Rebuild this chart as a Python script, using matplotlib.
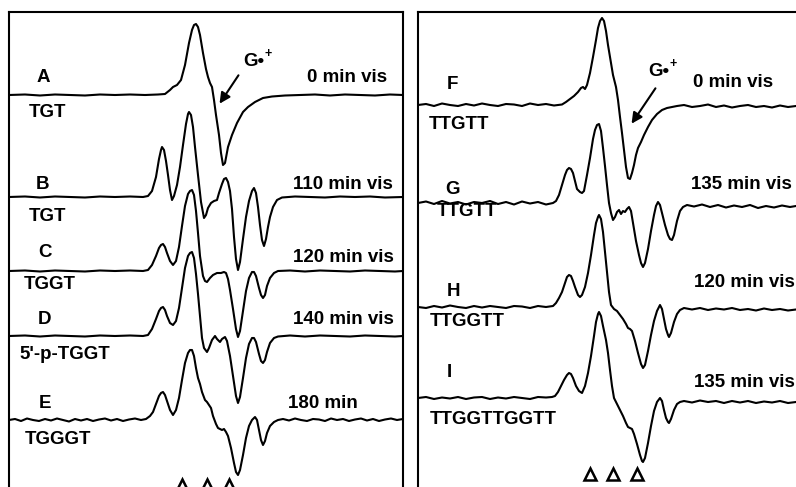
import numpy as np
import matplotlib
matplotlib.use("Agg")
import matplotlib.pyplot as plt

plt.rcParams['font.family'] = ['Liberation Sans', 'DejaVu Sans']

# widma EPR: (pole [px], sygnal [px] wzgledem linii bazowej)
trace_a = np.array([(9, 0), (25, 0.5), (40, -0.5), (55, 0.5), (70, 0), (85, -0.5), (100, 0.5), (115, 0),
    (130, 0.5), (145, 0), (158, 0.5), (165, 1), (170, 5), (173, 8), (177, 10), (181, 15), (185, 30),
    (189, 52), (192, 65), (194, 70), (196, 71), (198, 68), (200, 60), (203, 42), (206, 26), (208, 18),
    (210, 12), (212, 8), (214, -5), (216, -20), (219, -40), (221, -58), (223, -70), (225, -68),
    (228, -52), (232, -40), (237, -28), (243, -17), (248, -12), (255, -7), (263, -3), (272, -1.5),
    (285, -0.5), (300, 0), (315, 0.5), (330, -0.5), (345, 0.5), (360, 0), (375, -0.5), (390, 0.5), (403, 0)])

trace_b = np.array([(9, 0), (25, 0.5), (40, -0.5), (55, 0.5), (70, 0), (85, -0.5), (100, 0.5), (115, 0),
    (130, 0.5), (143, 0), (148, 1), (152, 6), (156, 20), (159, 38), (161, 47), (162, 50), (164, 47),
    (166, 36), (168, 22), (170, 7), (172, -3), (174, 1), (177, 12), (180, 30), (183, 52), (186, 73),
    (188, 83), (189, 85), (191, 82), (193, 70), (195, 50), (198, 22), (201, -5), (204, -21), (206, -18),
    (208, -11), (211, -6), (214, -4), (217, -3), (219, 4), (222, 13), (224, 18), (226, 19), (228, 15),
    (230, 6), (232, -12), (234, -40), (236, -62), (238, -73), (240, -65), (243, -42), (246, -20),
    (249, -4), (252, 6), (254, 9), (256, 4), (258, -10), (260, -28), (262, -43), (264, -49), (266, -42),
    (268, -30), (270, -20), (273, -10), (277, -3), (282, -0.5), (295, 0.5), (310, 0), (325, -0.5),
    (340, 0.5), (355, 0), (370, 0.5), (385, -0.5), (403, 0)])

trace_c = np.array([(9, 0), (25, 0.5), (40, -0.5), (55, 0.5), (70, 0), (85, -0.5), (100, 0.5), (115, 0),
    (130, 0.5), (143, 0), (148, 1), (152, 6), (156, 15), (159, 23), (161, 26), (163, 27), (165, 24),
    (167, 18), (170, 10), (173, 6), (176, 10), (179, 24), (182, 45), (185, 65), (188, 77), (190, 80),
    (192, 81), (194, 76), (196, 60), (198, 38), (200, 15), (203, -5), (205, -10), (207, -11), (210, -7),
    (213, -4), (217, -2), (221, -2), (224, -1), (226, -2), (228, -8), (230, -19), (233, -38), (236, -58),
    (238, -66), (240, -60), (243, -40), (246, -20), (249, -7), (252, -1), (254, -1), (256, -5),
    (259, -17), (261, -24), (263, -27), (265, -24), (267, -15), (270, -7), (274, -2), (278, 0),
    (290, 0.5), (305, -0.5), (320, 0.5), (335, 0), (350, -0.5), (365, 0.5), (380, 0), (395, -0.5), (403, 0)])

trace_d = np.array([(9, 0), (25, 0.5), (40, -0.5), (55, 0.5), (70, 0), (85, -0.5), (100, 0.5), (115, 0),
    (130, 0.5), (143, 0), (148, 1), (152, 7), (156, 17), (159, 25), (161, 28), (163, 29), (165, 26),
    (167, 20), (170, 13), (173, 11), (176, 15), (179, 28), (182, 48), (185, 68), (188, 80), (190, 83),
    (192, 84), (194, 78), (196, 62), (198, 42), (200, 20), (202, -2), (204, -12), (207, -16), (209, -12),
    (212, -4), (215, 0), (217, -3), (220, -6), (222, -3), (225, -1), (227, -5), (230, -20), (233, -40),
    (236, -60), (238, -67), (240, -61), (243, -42), (246, -22), (249, -8), (252, -2), (254, -2),
    (256, -6), (259, -18), (261, -25), (263, -27), (265, -24), (267, -16), (270, -7), (274, -2),
    (278, -0.5), (290, 0.5), (305, -0.5), (320, 0.5), (335, 0), (350, -0.5), (365, 0.5), (380, 0),
    (395, -0.5), (403, 0)])

trace_e = np.array([(9, 0), (15, 1), (21, -1), (27, 1.5), (33, 0), (39, -1), (45, 1), (51, -0.5), (57, 1.5),
    (63, 0), (69, -1.5), (75, 1), (81, -0.5), (87, 1), (93, -1), (99, 0.5), (105, 1.5), (111, -0.5),
    (117, 1), (123, -1), (129, 0.5), (135, 1.5), (141, 0), (146, 1), (150, 4), (153, 8), (156, 16),
    (159, 24), (161, 27), (163, 28), (165, 25), (167, 19), (170, 10), (173, 5), (176, 10), (179, 22),
    (182, 40), (185, 57), (188, 67), (190, 70), (192, 70), (194, 64), (196, 52), (198, 42), (200, 36),
    (202, 28), (205, 20), (207, 18), (209, 15), (211, 12), (213, 4), (216, -4), (218, -8), (220, -9),
    (222, -10), (224, -9), (226, -12), (228, -16), (231, -28), (234, -43), (236, -52), (238, -55),
    (240, -50), (243, -35), (246, -18), (249, -6), (252, 0), (255, 3), (257, 0), (259, -10), (261, -20),
    (263, -25), (265, -21), (267, -13), (270, -6), (274, -2), (278, 0), (283, 1), (289, -0.5), (295, 1.5),
    (301, 0), (307, -1), (313, 1), (319, 0.5), (325, -1), (331, 1.5), (337, 0), (343, 1), (349, -1),
    (355, 0.5), (361, 1.5), (367, -0.5), (373, 1), (379, -1), (385, 0.5), (391, 1.5), (397, 0), (403, 1)])

trace_f = np.array([(418, 0), (426, 1), (434, -1), (442, 1.5), (450, 0), (458, -1), (466, 1), (474, -0.5),
    (482, 1.5), (490, 0), (498, -1), (506, 1), (514, 0.5), (522, -1), (530, 1.5), (538, 0), (546, 1),
    (554, -0.5), (562, 0.5), (566, 3), (570, 6), (574, 9), (578, 13), (581, 17), (583, 18), (585, 16),
    (587, 20), (590, 32), (593, 48), (596, 65), (598, 77), (600, 84), (602, 87), (604, 84), (606, 74),
    (608, 60), (610, 48), (613, 30), (616, 18), (618, 5), (620, -12), (622, -28), (624, -45), (626, -62),
    (628, -73), (630, -74), (632, -68), (634, -60), (636, -50), (638, -43), (641, -37), (644, -30),
    (648, -22), (652, -15), (657, -9), (662, -5), (667, -3), (672, -2), (677, -1), (684, 0), (692, -2),
    (700, -1), (708, 0.5), (716, -2), (724, -0.5), (732, -2.5), (740, -1), (748, 0), (756, -2),
    (764, -1), (772, -2.5), (780, -0.5), (788, -2), (796, -1)])

trace_g = np.array([(418, 0), (426, 1.5), (434, -1), (442, 2), (450, -0.5), (458, 1), (466, -1.5), (474, 1),
    (482, 0), (490, 2), (498, -1), (506, 1), (514, -1.5), (522, 1.5), (530, -0.5), (538, 1), (546, -1.5),
    (553, 0), (556, 2), (559, 8), (562, 18), (565, 28), (567, 33), (569, 35), (571, 34), (573, 30),
    (575, 22), (577, 14), (580, 11), (582, 10), (584, 12), (587, 28), (590, 45), (593, 64), (595, 73),
    (597, 78), (599, 79), (601, 72), (603, 55), (605, 37), (607, 18), (609, 0), (611, -10), (613, -17),
    (615, -14), (617, -9), (619, -7), (621, -11), (623, -8), (625, -9), (627, -6), (629, -4), (631, -8),
    (633, -20), (636, -38), (639, -52), (641, -60), (643, -64), (645, -60), (648, -46), (651, -28),
    (654, -12), (656, -3), (658, 1), (660, -2), (662, -10), (665, -22), (668, -32), (670, -36), (672, -37),
    (674, -32), (677, -18), (680, -8), (683, -4), (687, -2), (694, -3.5), (702, -1.5), (710, -4),
    (718, -2), (726, -4.5), (734, -2.5), (742, -4), (750, -2), (758, -5), (766, -3), (774, -4.5),
    (782, -2.5), (790, -4), (796, -3)])

trace_h = np.array([(418, 0), (426, -1), (434, 1), (442, -0.5), (450, 1.5), (458, 0), (466, -1), (474, 1),
    (482, -0.5), (490, 1), (498, 0), (506, -1), (514, 1), (522, 0.5), (530, -1), (538, 1), (546, 0),
    (553, 1), (556, 4), (559, 9), (562, 15), (565, 24), (567, 30), (569, 32), (571, 31), (573, 26),
    (575, 20), (578, 12), (580, 10), (582, 12), (585, 20), (588, 34), (591, 52), (594, 72), (596, 84),
    (598, 90), (599, 92), (601, 88), (603, 75), (605, 55), (607, 35), (609, 15), (611, 2), (614, -2),
    (617, -4), (620, -8), (623, -12), (626, -17), (628, -21), (630, -22), (632, -24), (635, -34),
    (638, -46), (641, -57), (643, -61), (645, -58), (648, -44), (651, -28), (654, -14), (657, -4),
    (660, 2), (662, -2), (664, -12), (666, -22), (668, -28), (669, -30), (671, -26), (674, -15),
    (677, -7), (680, -3), (684, -1), (692, -2.5), (700, -1), (708, -3), (716, -1.5), (724, -2.5),
    (732, -1), (740, -3), (748, -2), (756, -3.5), (764, -1.5), (772, -3), (780, -2), (788, -3.5), (796, -2.5)])

trace_i = np.array([(418, 0), (426, 1), (434, -1), (442, 0.5), (450, -0.5), (458, 1), (466, -1), (474, 0.5),
    (482, 1), (490, -1), (498, 0.5), (506, -0.5), (514, 1), (522, 0), (530, -1), (538, 1), (546, 0.5),
    (552, 1), (555, 2), (558, 6), (561, 12), (564, 18), (567, 23), (569, 25), (571, 24), (573, 20),
    (576, 12), (579, 7), (582, 5), (585, 12), (588, 25), (591, 42), (594, 62), (596, 76), (598, 84),
    (599, 86), (601, 82), (603, 72), (606, 58), (608, 45), (610, 28), (612, 12), (614, 0), (617, -6),
    (620, -12), (623, -18), (626, -25), (628, -29), (630, -30), (632, -31), (634, -36), (637, -46),
    (640, -57), (642, -63), (643, -64), (645, -60), (648, -45), (651, -28), (654, -13), (657, -4),
    (660, 0), (662, -3), (664, -12), (666, -20), (668, -24), (669, -25), (671, -21), (674, -12),
    (677, -6), (680, -4), (684, -3), (692, -4.5), (700, -2.5), (708, -4), (716, -3), (724, -5),
    (732, -3), (740, -4.5), (748, -3), (756, -5), (764, -3.5), (772, -4.5), (780, -3), (788, -5), (796, -4)])

left_traces = [trace_a, trace_b, trace_c, trace_d, trace_e]
right_traces = [trace_f, trace_g, trace_h, trace_i]
left_baselines = [95, 197, 271, 336, 420]
right_baselines = [105, 203, 307, 398]

left_letters = ["A", "B", "C", "D", "E"]
left_samples = ["TGT", "TGT", "TGGT", "5'-p-TGGT", "TGGGT"]
left_times = ["0 min vis", "110 min vis", "120 min vis", "140 min vis", "180 min"]
right_letters = ["F", "G", "H", "I"]
right_samples = ["TTGTT", "TTGTT", "TTGGTT", "TTGGTTGGTT"]
right_times = ["0 min vis", "135 min vis", "120 min vis", "135 min vis"]

left_marks = [182, 207, 229]
right_marks = [590, 613, 637]

W, H = 796, 487
fig = plt.figure(figsize=(W / 100, H / 100), dpi=100)

def make_ax(x0, x1):
    # os w pikselach obrazka, y odwrocone (y = -piksel)
    ax = fig.add_axes([x0 / W, 1 - 530 / H, (x1 - x0) / W, (530 - 12) / H])
    ax.set_xlim(x0, x1)
    ax.set_ylim(-530, -12)
    ax.set_xticks([])
    ax.set_yticks([])
    for s in ax.spines.values():
        s.set_linewidth(1.5)
    ax.spines['bottom'].set_visible(False)
    return ax

ax1 = make_ax(9, 403)
ax2 = make_ax(418, 830)

kw = dict(fontsize=13.5, fontweight='bold', ha='center', va='center')

for tr, base in zip(left_traces, left_baselines):
    ax1.plot(tr[:, 0], tr[:, 1] - base, color='black', lw=1.5)
for tr, base in zip(right_traces, right_baselines):
    ax2.plot(tr[:, 0], tr[:, 1] - base, color='black', lw=1.5)

left_letter_pos = [(43, 78), (43, 185), (45, 253), (45, 320), (45, 403)]
left_sample_pos = [(48, 113), (48, 217), (50, 285), (65, 355), (58, 439)]
left_time_pos = [(347, 78), (343, 185), (343, 258), (343, 320), (323, 403)]
for t, (x, y) in zip(left_letters, left_letter_pos):
    ax1.text(x, -y, t, **kw)
for t, (x, y) in zip(left_samples, left_sample_pos):
    ax1.text(x, -y, t, **kw)
for t, (x, y) in zip(left_times, left_time_pos):
    ax1.text(x, -y, t, **kw)

right_letter_pos = [(452, 85), (452, 190), (453, 292), (449, 373)]
right_sample_pos = [(459, 125), (467, 212), (467, 322), (493, 420)]
right_time_pos = [(733, 83), (741, 185), (744, 283), (744, 383)]
for t, (x, y) in zip(right_letters, right_letter_pos):
    ax2.text(x, -y, t, **kw)
for t, (x, y) in zip(right_samples, right_sample_pos):
    ax2.text(x, -y, t, **kw)
for t, (x, y) in zip(right_times, right_time_pos):
    ax2.text(x, -y, t, clip_on=False, **kw)

# G•+ z strzalka
ax1.text(254, -62, "G•", **kw)
ax1.text(268.5, -54, "+", fontsize=9, fontweight='bold', ha='center', va='center')
ax1.annotate("", xy=(218, -106), xytext=(240, -73),
             arrowprops=dict(arrowstyle='-|>', color='black', lw=1.5, mutation_scale=16))
ax2.text(659, -72, "G•", **kw)
ax2.text(673.5, -64, "+", fontsize=9, fontweight='bold', ha='center', va='center')
ax2.annotate("", xy=(630, -126), xytext=(657, -86),
             arrowprops=dict(arrowstyle='-|>', color='black', lw=1.5, mutation_scale=16))

ax1.plot(left_marks, [-485] * 3, linestyle='none', marker='^', ms=9, mfc='white',
         mec='black', mew=1.8, clip_on=False)
ax2.plot(right_marks, [-474] * 3, linestyle='none', marker='^', ms=9, mfc='white',
         mec='black', mew=1.8, clip_on=False)

fig.savefig("out.png", dpi=100)
